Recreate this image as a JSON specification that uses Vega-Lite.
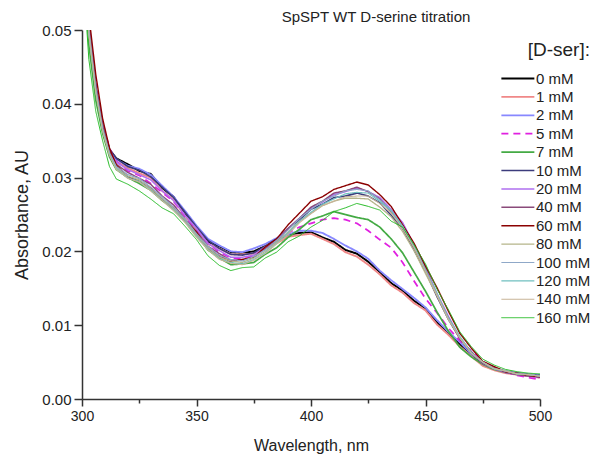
{
  "$schema": "https://vega.github.io/schema/vega-lite/v6.json",
  "width": 458,
  "height": 369,
  "autosize": {"type": "none"},
  "padding": {"left": 82, "top": 30, "right": 54, "bottom": 58},
  "background": "white",
  "title": {"text": "SpSPT WT D-serine titration", "fontSize": 15, "fontWeight": "normal", "font": "Liberation Sans", "color": "#222", "anchor": "middle", "dx": 65, "offset": -2},
  "config": {
    "font": "Liberation Sans",
    "view": {"stroke": null},
    "axis": {"grid": false, "domainColor": "#333", "domainWidth": 1.5, "tickColor": "#333", "tickWidth": 1.5, "labelFontSize": 14, "labelColor": "#222", "titleFontSize": 16, "titleFontWeight": "normal", "titleColor": "#222"}
  },
  "data": {"values": [
{"w":300,"c":"0 mM","a":0.064},{"w":303,"c":"0 mM","a":0.05},{"w":306,"c":"0 mM","a":0.042},{"w":309,"c":"0 mM","a":0.037},{"w":312,"c":"0 mM","a":0.0338},{"w":315,"c":"0 mM","a":0.0326},{"w":320,"c":"0 mM","a":0.0318},{"w":325,"c":"0 mM","a":0.0309},{"w":330,"c":"0 mM","a":0.0305},{"w":335,"c":"0 mM","a":0.0286},{"w":340,"c":"0 mM","a":0.0274},{"w":345,"c":"0 mM","a":0.025},{"w":350,"c":"0 mM","a":0.0233},{"w":355,"c":"0 mM","a":0.0213},{"w":360,"c":"0 mM","a":0.0207},{"w":365,"c":"0 mM","a":0.0199},{"w":370,"c":"0 mM","a":0.0198},{"w":375,"c":"0 mM","a":0.02},{"w":380,"c":"0 mM","a":0.0207},{"w":385,"c":"0 mM","a":0.0214},{"w":390,"c":"0 mM","a":0.0223},{"w":395,"c":"0 mM","a":0.0225},{"w":400,"c":"0 mM","a":0.0226},{"w":405,"c":"0 mM","a":0.0219},{"w":410,"c":"0 mM","a":0.0213},{"w":415,"c":"0 mM","a":0.0202},{"w":420,"c":"0 mM","a":0.0197},{"w":425,"c":"0 mM","a":0.0186},{"w":430,"c":"0 mM","a":0.0172},{"w":435,"c":"0 mM","a":0.0157},{"w":440,"c":"0 mM","a":0.0147},{"w":445,"c":"0 mM","a":0.0133},{"w":450,"c":"0 mM","a":0.0123},{"w":455,"c":"0 mM","a":0.0104},{"w":460,"c":"0 mM","a":0.009},{"w":465,"c":"0 mM","a":0.0074},{"w":470,"c":"0 mM","a":0.0061},{"w":475,"c":"0 mM","a":0.0047},{"w":480,"c":"0 mM","a":0.0041},{"w":485,"c":"0 mM","a":0.0037},{"w":490,"c":"0 mM","a":0.0035},{"w":495,"c":"0 mM","a":0.0033},{"w":500,"c":"0 mM","a":0.0032},
{"w":300,"c":"1 mM","a":0.063},{"w":303,"c":"1 mM","a":0.0495},{"w":306,"c":"1 mM","a":0.0415},{"w":309,"c":"1 mM","a":0.0366},{"w":312,"c":"1 mM","a":0.0335},{"w":315,"c":"1 mM","a":0.0322},{"w":320,"c":"1 mM","a":0.0313},{"w":325,"c":"1 mM","a":0.0306},{"w":330,"c":"1 mM","a":0.03},{"w":335,"c":"1 mM","a":0.0282},{"w":340,"c":"1 mM","a":0.027},{"w":345,"c":"1 mM","a":0.0248},{"w":350,"c":"1 mM","a":0.023},{"w":355,"c":"1 mM","a":0.021},{"w":360,"c":"1 mM","a":0.0204},{"w":365,"c":"1 mM","a":0.0196},{"w":370,"c":"1 mM","a":0.0196},{"w":375,"c":"1 mM","a":0.0197},{"w":380,"c":"1 mM","a":0.0205},{"w":385,"c":"1 mM","a":0.0211},{"w":390,"c":"1 mM","a":0.022},{"w":395,"c":"1 mM","a":0.0222},{"w":400,"c":"1 mM","a":0.0224},{"w":405,"c":"1 mM","a":0.0217},{"w":410,"c":"1 mM","a":0.021},{"w":415,"c":"1 mM","a":0.0199},{"w":420,"c":"1 mM","a":0.0193},{"w":425,"c":"1 mM","a":0.0182},{"w":430,"c":"1 mM","a":0.0169},{"w":435,"c":"1 mM","a":0.0154},{"w":440,"c":"1 mM","a":0.0144},{"w":445,"c":"1 mM","a":0.013},{"w":450,"c":"1 mM","a":0.012},{"w":455,"c":"1 mM","a":0.0101},{"w":460,"c":"1 mM","a":0.0087},{"w":465,"c":"1 mM","a":0.0071},{"w":470,"c":"1 mM","a":0.0058},{"w":475,"c":"1 mM","a":0.0045},{"w":480,"c":"1 mM","a":0.0039},{"w":485,"c":"1 mM","a":0.0035},{"w":490,"c":"1 mM","a":0.0033},{"w":495,"c":"1 mM","a":0.0031},{"w":500,"c":"1 mM","a":0.0029},
{"w":300,"c":"2 mM","a":0.0635},{"w":303,"c":"2 mM","a":0.0498},{"w":306,"c":"2 mM","a":0.0418},{"w":309,"c":"2 mM","a":0.0368},{"w":312,"c":"2 mM","a":0.0337},{"w":315,"c":"2 mM","a":0.0325},{"w":320,"c":"2 mM","a":0.0316},{"w":325,"c":"2 mM","a":0.0312},{"w":330,"c":"2 mM","a":0.0304},{"w":335,"c":"2 mM","a":0.0289},{"w":340,"c":"2 mM","a":0.0274},{"w":345,"c":"2 mM","a":0.0255},{"w":350,"c":"2 mM","a":0.0235},{"w":355,"c":"2 mM","a":0.0217},{"w":360,"c":"2 mM","a":0.0208},{"w":365,"c":"2 mM","a":0.02},{"w":370,"c":"2 mM","a":0.0199},{"w":375,"c":"2 mM","a":0.0204},{"w":380,"c":"2 mM","a":0.021},{"w":385,"c":"2 mM","a":0.0218},{"w":390,"c":"2 mM","a":0.0223},{"w":395,"c":"2 mM","a":0.0228},{"w":400,"c":"2 mM","a":0.0228},{"w":405,"c":"2 mM","a":0.0225},{"w":410,"c":"2 mM","a":0.0217},{"w":415,"c":"2 mM","a":0.0208},{"w":420,"c":"2 mM","a":0.02},{"w":425,"c":"2 mM","a":0.019},{"w":430,"c":"2 mM","a":0.0174},{"w":435,"c":"2 mM","a":0.0161},{"w":440,"c":"2 mM","a":0.0149},{"w":445,"c":"2 mM","a":0.0137},{"w":450,"c":"2 mM","a":0.0124},{"w":455,"c":"2 mM","a":0.0107},{"w":460,"c":"2 mM","a":0.0091},{"w":465,"c":"2 mM","a":0.0077},{"w":470,"c":"2 mM","a":0.0061},{"w":475,"c":"2 mM","a":0.005},{"w":480,"c":"2 mM","a":0.0042},{"w":485,"c":"2 mM","a":0.0038},{"w":490,"c":"2 mM","a":0.0035},{"w":495,"c":"2 mM","a":0.0033},{"w":500,"c":"2 mM","a":0.0032},
{"w":300,"c":"5 mM","a":0.066},{"w":303,"c":"5 mM","a":0.0505},{"w":306,"c":"5 mM","a":0.0425},{"w":309,"c":"5 mM","a":0.0372},{"w":312,"c":"5 mM","a":0.034},{"w":315,"c":"5 mM","a":0.0322},{"w":320,"c":"5 mM","a":0.0309},{"w":325,"c":"5 mM","a":0.0303},{"w":330,"c":"5 mM","a":0.0292},{"w":335,"c":"5 mM","a":0.028},{"w":340,"c":"5 mM","a":0.0268},{"w":345,"c":"5 mM","a":0.0247},{"w":350,"c":"5 mM","a":0.0229},{"w":355,"c":"5 mM","a":0.0211},{"w":360,"c":"5 mM","a":0.0199},{"w":365,"c":"5 mM","a":0.0191},{"w":370,"c":"5 mM","a":0.019},{"w":375,"c":"5 mM","a":0.0194},{"w":380,"c":"5 mM","a":0.0203},{"w":385,"c":"5 mM","a":0.0213},{"w":390,"c":"5 mM","a":0.0225},{"w":395,"c":"5 mM","a":0.0233},{"w":400,"c":"5 mM","a":0.0238},{"w":405,"c":"5 mM","a":0.0243},{"w":410,"c":"5 mM","a":0.0245},{"w":415,"c":"5 mM","a":0.0243},{"w":420,"c":"5 mM","a":0.0238},{"w":425,"c":"5 mM","a":0.0228},{"w":430,"c":"5 mM","a":0.0216},{"w":435,"c":"5 mM","a":0.0205},{"w":440,"c":"5 mM","a":0.0185},{"w":445,"c":"5 mM","a":0.016},{"w":450,"c":"5 mM","a":0.0136},{"w":455,"c":"5 mM","a":0.0117},{"w":460,"c":"5 mM","a":0.0096},{"w":465,"c":"5 mM","a":0.0079},{"w":470,"c":"5 mM","a":0.0065},{"w":475,"c":"5 mM","a":0.0051},{"w":480,"c":"5 mM","a":0.0042},{"w":485,"c":"5 mM","a":0.0037},{"w":490,"c":"5 mM","a":0.0032},{"w":495,"c":"5 mM","a":0.0029},{"w":500,"c":"5 mM","a":0.0026},
{"w":300,"c":"7 mM","a":0.062},{"w":303,"c":"7 mM","a":0.048},{"w":306,"c":"7 mM","a":0.0405},{"w":309,"c":"7 mM","a":0.036},{"w":312,"c":"7 mM","a":0.0328},{"w":315,"c":"7 mM","a":0.0311},{"w":320,"c":"7 mM","a":0.03},{"w":325,"c":"7 mM","a":0.0292},{"w":330,"c":"7 mM","a":0.0283},{"w":335,"c":"7 mM","a":0.0269},{"w":340,"c":"7 mM","a":0.0258},{"w":345,"c":"7 mM","a":0.0241},{"w":350,"c":"7 mM","a":0.0223},{"w":355,"c":"7 mM","a":0.0202},{"w":360,"c":"7 mM","a":0.0191},{"w":365,"c":"7 mM","a":0.0182},{"w":370,"c":"7 mM","a":0.0183},{"w":375,"c":"7 mM","a":0.0185},{"w":380,"c":"7 mM","a":0.0196},{"w":385,"c":"7 mM","a":0.0205},{"w":390,"c":"7 mM","a":0.0219},{"w":395,"c":"7 mM","a":0.023},{"w":400,"c":"7 mM","a":0.0243},{"w":405,"c":"7 mM","a":0.0248},{"w":410,"c":"7 mM","a":0.0254},{"w":415,"c":"7 mM","a":0.025},{"w":420,"c":"7 mM","a":0.0246},{"w":425,"c":"7 mM","a":0.0243},{"w":430,"c":"7 mM","a":0.0233},{"w":435,"c":"7 mM","a":0.0217},{"w":440,"c":"7 mM","a":0.0198},{"w":445,"c":"7 mM","a":0.0172},{"w":450,"c":"7 mM","a":0.0146},{"w":455,"c":"7 mM","a":0.0118},{"w":460,"c":"7 mM","a":0.0092},{"w":465,"c":"7 mM","a":0.007},{"w":470,"c":"7 mM","a":0.0057},{"w":475,"c":"7 mM","a":0.0047},{"w":480,"c":"7 mM","a":0.004},{"w":485,"c":"7 mM","a":0.0036},{"w":490,"c":"7 mM","a":0.0034},{"w":495,"c":"7 mM","a":0.0032},{"w":500,"c":"7 mM","a":0.0031},
{"w":300,"c":"10 mM","a":0.065},{"w":303,"c":"10 mM","a":0.0505},{"w":306,"c":"10 mM","a":0.0425},{"w":309,"c":"10 mM","a":0.0372},{"w":312,"c":"10 mM","a":0.0338},{"w":315,"c":"10 mM","a":0.0326},{"w":320,"c":"10 mM","a":0.0315},{"w":325,"c":"10 mM","a":0.031},{"w":330,"c":"10 mM","a":0.0301},{"w":335,"c":"10 mM","a":0.0287},{"w":340,"c":"10 mM","a":0.0273},{"w":345,"c":"10 mM","a":0.0253},{"w":350,"c":"10 mM","a":0.0233},{"w":355,"c":"10 mM","a":0.0215},{"w":360,"c":"10 mM","a":0.0204},{"w":365,"c":"10 mM","a":0.0196},{"w":370,"c":"10 mM","a":0.0195},{"w":375,"c":"10 mM","a":0.0198},{"w":380,"c":"10 mM","a":0.0207},{"w":385,"c":"10 mM","a":0.0217},{"w":390,"c":"10 mM","a":0.0231},{"w":395,"c":"10 mM","a":0.0243},{"w":400,"c":"10 mM","a":0.0257},{"w":405,"c":"10 mM","a":0.0264},{"w":410,"c":"10 mM","a":0.0273},{"w":415,"c":"10 mM","a":0.0275},{"w":420,"c":"10 mM","a":0.0279},{"w":425,"c":"10 mM","a":0.0275},{"w":430,"c":"10 mM","a":0.0266},{"w":435,"c":"10 mM","a":0.0249},{"w":440,"c":"10 mM","a":0.0231},{"w":445,"c":"10 mM","a":0.0202},{"w":450,"c":"10 mM","a":0.0173},{"w":455,"c":"10 mM","a":0.0139},{"w":460,"c":"10 mM","a":0.0108},{"w":465,"c":"10 mM","a":0.0082},{"w":470,"c":"10 mM","a":0.0062},{"w":475,"c":"10 mM","a":0.0049},{"w":480,"c":"10 mM","a":0.0041},{"w":485,"c":"10 mM","a":0.0037},{"w":490,"c":"10 mM","a":0.0034},{"w":495,"c":"10 mM","a":0.0032},{"w":500,"c":"10 mM","a":0.0031},
{"w":300,"c":"20 mM","a":0.065},{"w":303,"c":"20 mM","a":0.0503},{"w":306,"c":"20 mM","a":0.0423},{"w":309,"c":"20 mM","a":0.037},{"w":312,"c":"20 mM","a":0.0337},{"w":315,"c":"20 mM","a":0.0321},{"w":320,"c":"20 mM","a":0.0311},{"w":325,"c":"20 mM","a":0.0304},{"w":330,"c":"20 mM","a":0.0297},{"w":335,"c":"20 mM","a":0.0282},{"w":340,"c":"20 mM","a":0.0269},{"w":345,"c":"20 mM","a":0.0249},{"w":350,"c":"20 mM","a":0.0231},{"w":355,"c":"20 mM","a":0.0211},{"w":360,"c":"20 mM","a":0.0201},{"w":365,"c":"20 mM","a":0.0192},{"w":370,"c":"20 mM","a":0.0192},{"w":375,"c":"20 mM","a":0.0195},{"w":380,"c":"20 mM","a":0.0206},{"w":385,"c":"20 mM","a":0.0215},{"w":390,"c":"20 mM","a":0.0231},{"w":395,"c":"20 mM","a":0.0245},{"w":400,"c":"20 mM","a":0.0259},{"w":405,"c":"20 mM","a":0.0267},{"w":410,"c":"20 mM","a":0.0277},{"w":415,"c":"20 mM","a":0.0281},{"w":420,"c":"20 mM","a":0.0286},{"w":425,"c":"20 mM","a":0.0281},{"w":430,"c":"20 mM","a":0.0273},{"w":435,"c":"20 mM","a":0.0257},{"w":440,"c":"20 mM","a":0.0239},{"w":445,"c":"20 mM","a":0.0209},{"w":450,"c":"20 mM","a":0.0179},{"w":455,"c":"20 mM","a":0.0143},{"w":460,"c":"20 mM","a":0.0112},{"w":465,"c":"20 mM","a":0.0083},{"w":470,"c":"20 mM","a":0.0064},{"w":475,"c":"20 mM","a":0.0048},{"w":480,"c":"20 mM","a":0.0041},{"w":485,"c":"20 mM","a":0.0036},{"w":490,"c":"20 mM","a":0.0033},{"w":495,"c":"20 mM","a":0.0031},{"w":500,"c":"20 mM","a":0.0029},
{"w":300,"c":"40 mM","a":0.0655},{"w":303,"c":"40 mM","a":0.0505},{"w":306,"c":"40 mM","a":0.0424},{"w":309,"c":"40 mM","a":0.037},{"w":312,"c":"40 mM","a":0.0336},{"w":315,"c":"40 mM","a":0.0318},{"w":320,"c":"40 mM","a":0.0307},{"w":325,"c":"40 mM","a":0.0299},{"w":330,"c":"40 mM","a":0.0291},{"w":335,"c":"40 mM","a":0.0275},{"w":340,"c":"40 mM","a":0.0263},{"w":345,"c":"40 mM","a":0.0244},{"w":350,"c":"40 mM","a":0.0227},{"w":355,"c":"40 mM","a":0.0207},{"w":360,"c":"40 mM","a":0.0197},{"w":365,"c":"40 mM","a":0.0188},{"w":370,"c":"40 mM","a":0.0189},{"w":375,"c":"40 mM","a":0.0192},{"w":380,"c":"40 mM","a":0.0204},{"w":385,"c":"40 mM","a":0.0214},{"w":390,"c":"40 mM","a":0.0231},{"w":395,"c":"40 mM","a":0.0245},{"w":400,"c":"40 mM","a":0.026},{"w":405,"c":"40 mM","a":0.0268},{"w":410,"c":"40 mM","a":0.0279},{"w":415,"c":"40 mM","a":0.0282},{"w":420,"c":"40 mM","a":0.0287},{"w":425,"c":"40 mM","a":0.0281},{"w":430,"c":"40 mM","a":0.0271},{"w":435,"c":"40 mM","a":0.0254},{"w":440,"c":"40 mM","a":0.0235},{"w":445,"c":"40 mM","a":0.0205},{"w":450,"c":"40 mM","a":0.0175},{"w":455,"c":"40 mM","a":0.014},{"w":460,"c":"40 mM","a":0.011},{"w":465,"c":"40 mM","a":0.0082},{"w":470,"c":"40 mM","a":0.0064},{"w":475,"c":"40 mM","a":0.0048},{"w":480,"c":"40 mM","a":0.0042},{"w":485,"c":"40 mM","a":0.0036},{"w":490,"c":"40 mM","a":0.0033},{"w":495,"c":"40 mM","a":0.0031},{"w":500,"c":"40 mM","a":0.003},
{"w":300,"c":"60 mM","a":0.068},{"w":303,"c":"60 mM","a":0.052},{"w":306,"c":"60 mM","a":0.044},{"w":309,"c":"60 mM","a":0.038},{"w":312,"c":"60 mM","a":0.034},{"w":315,"c":"60 mM","a":0.0317},{"w":320,"c":"60 mM","a":0.0301},{"w":325,"c":"60 mM","a":0.0295},{"w":330,"c":"60 mM","a":0.0286},{"w":335,"c":"60 mM","a":0.027},{"w":340,"c":"60 mM","a":0.0259},{"w":345,"c":"60 mM","a":0.0242},{"w":350,"c":"60 mM","a":0.0226},{"w":355,"c":"60 mM","a":0.0204},{"w":360,"c":"60 mM","a":0.0194},{"w":365,"c":"60 mM","a":0.0186},{"w":370,"c":"60 mM","a":0.0189},{"w":375,"c":"60 mM","a":0.0192},{"w":380,"c":"60 mM","a":0.0206},{"w":385,"c":"60 mM","a":0.0217},{"w":390,"c":"60 mM","a":0.0236},{"w":395,"c":"60 mM","a":0.0252},{"w":400,"c":"60 mM","a":0.0268},{"w":405,"c":"60 mM","a":0.0274},{"w":410,"c":"60 mM","a":0.0284},{"w":415,"c":"60 mM","a":0.0289},{"w":420,"c":"60 mM","a":0.0294},{"w":425,"c":"60 mM","a":0.029},{"w":430,"c":"60 mM","a":0.0277},{"w":435,"c":"60 mM","a":0.0261},{"w":440,"c":"60 mM","a":0.0236},{"w":445,"c":"60 mM","a":0.0211},{"w":450,"c":"60 mM","a":0.018},{"w":455,"c":"60 mM","a":0.0151},{"w":460,"c":"60 mM","a":0.0119},{"w":465,"c":"60 mM","a":0.0089},{"w":470,"c":"60 mM","a":0.0069},{"w":475,"c":"60 mM","a":0.0051},{"w":480,"c":"60 mM","a":0.0044},{"w":485,"c":"60 mM","a":0.0037},{"w":490,"c":"60 mM","a":0.0035},{"w":495,"c":"60 mM","a":0.0032},{"w":500,"c":"60 mM","a":0.003},
{"w":300,"c":"80 mM","a":0.064},{"w":303,"c":"80 mM","a":0.0495},{"w":306,"c":"80 mM","a":0.0418},{"w":309,"c":"80 mM","a":0.0365},{"w":312,"c":"80 mM","a":0.0332},{"w":315,"c":"80 mM","a":0.0313},{"w":320,"c":"80 mM","a":0.0302},{"w":325,"c":"80 mM","a":0.0297},{"w":330,"c":"80 mM","a":0.0285},{"w":335,"c":"80 mM","a":0.0272},{"w":340,"c":"80 mM","a":0.0258},{"w":345,"c":"80 mM","a":0.0242},{"w":350,"c":"80 mM","a":0.0222},{"w":355,"c":"80 mM","a":0.0205},{"w":360,"c":"80 mM","a":0.0192},{"w":365,"c":"80 mM","a":0.0187},{"w":370,"c":"80 mM","a":0.0185},{"w":375,"c":"80 mM","a":0.0191},{"w":380,"c":"80 mM","a":0.02},{"w":385,"c":"80 mM","a":0.0213},{"w":390,"c":"80 mM","a":0.0226},{"w":395,"c":"80 mM","a":0.0241},{"w":400,"c":"80 mM","a":0.0252},{"w":405,"c":"80 mM","a":0.0262},{"w":410,"c":"80 mM","a":0.0268},{"w":415,"c":"80 mM","a":0.0272},{"w":420,"c":"80 mM","a":0.0272},{"w":425,"c":"80 mM","a":0.0271},{"w":430,"c":"80 mM","a":0.026},{"w":435,"c":"80 mM","a":0.0247},{"w":440,"c":"80 mM","a":0.0227},{"w":445,"c":"80 mM","a":0.0201},{"w":450,"c":"80 mM","a":0.017},{"w":455,"c":"80 mM","a":0.014},{"w":460,"c":"80 mM","a":0.0108},{"w":465,"c":"80 mM","a":0.0083},{"w":470,"c":"80 mM","a":0.0062},{"w":475,"c":"80 mM","a":0.005},{"w":480,"c":"80 mM","a":0.0041},{"w":485,"c":"80 mM","a":0.0038},{"w":490,"c":"80 mM","a":0.0034},{"w":495,"c":"80 mM","a":0.0033},{"w":500,"c":"80 mM","a":0.0031},
{"w":300,"c":"100 mM","a":0.0645},{"w":303,"c":"100 mM","a":0.05},{"w":306,"c":"100 mM","a":0.042},{"w":309,"c":"100 mM","a":0.0366},{"w":312,"c":"100 mM","a":0.0333},{"w":315,"c":"100 mM","a":0.0315},{"w":320,"c":"100 mM","a":0.0304},{"w":325,"c":"100 mM","a":0.0299},{"w":330,"c":"100 mM","a":0.0287},{"w":335,"c":"100 mM","a":0.0274},{"w":340,"c":"100 mM","a":0.026},{"w":345,"c":"100 mM","a":0.0244},{"w":350,"c":"100 mM","a":0.0224},{"w":355,"c":"100 mM","a":0.0207},{"w":360,"c":"100 mM","a":0.0194},{"w":365,"c":"100 mM","a":0.0189},{"w":370,"c":"100 mM","a":0.0187},{"w":375,"c":"100 mM","a":0.0193},{"w":380,"c":"100 mM","a":0.0202},{"w":385,"c":"100 mM","a":0.0215},{"w":390,"c":"100 mM","a":0.0229},{"w":395,"c":"100 mM","a":0.0245},{"w":400,"c":"100 mM","a":0.0257},{"w":405,"c":"100 mM","a":0.0268},{"w":410,"c":"100 mM","a":0.0275},{"w":415,"c":"100 mM","a":0.0282},{"w":420,"c":"100 mM","a":0.0284},{"w":425,"c":"100 mM","a":0.0282},{"w":430,"c":"100 mM","a":0.027},{"w":435,"c":"100 mM","a":0.0256},{"w":440,"c":"100 mM","a":0.0234},{"w":445,"c":"100 mM","a":0.0207},{"w":450,"c":"100 mM","a":0.0174},{"w":455,"c":"100 mM","a":0.0142},{"w":460,"c":"100 mM","a":0.0109},{"w":465,"c":"100 mM","a":0.0084},{"w":470,"c":"100 mM","a":0.0062},{"w":475,"c":"100 mM","a":0.005},{"w":480,"c":"100 mM","a":0.0041},{"w":485,"c":"100 mM","a":0.0038},{"w":490,"c":"100 mM","a":0.0034},{"w":495,"c":"100 mM","a":0.0033},{"w":500,"c":"100 mM","a":0.0031},
{"w":300,"c":"120 mM","a":0.064},{"w":303,"c":"120 mM","a":0.0495},{"w":306,"c":"120 mM","a":0.0417},{"w":309,"c":"120 mM","a":0.0364},{"w":312,"c":"120 mM","a":0.0331},{"w":315,"c":"120 mM","a":0.0312},{"w":320,"c":"120 mM","a":0.03},{"w":325,"c":"120 mM","a":0.0295},{"w":330,"c":"120 mM","a":0.0283},{"w":335,"c":"120 mM","a":0.027},{"w":340,"c":"120 mM","a":0.0256},{"w":345,"c":"120 mM","a":0.024},{"w":350,"c":"120 mM","a":0.022},{"w":355,"c":"120 mM","a":0.0203},{"w":360,"c":"120 mM","a":0.019},{"w":365,"c":"120 mM","a":0.0185},{"w":370,"c":"120 mM","a":0.0183},{"w":375,"c":"120 mM","a":0.0189},{"w":380,"c":"120 mM","a":0.0198},{"w":385,"c":"120 mM","a":0.0211},{"w":390,"c":"120 mM","a":0.0225},{"w":395,"c":"120 mM","a":0.0241},{"w":400,"c":"120 mM","a":0.0253},{"w":405,"c":"120 mM","a":0.0264},{"w":410,"c":"120 mM","a":0.0271},{"w":415,"c":"120 mM","a":0.0278},{"w":420,"c":"120 mM","a":0.028},{"w":425,"c":"120 mM","a":0.0279},{"w":430,"c":"120 mM","a":0.0268},{"w":435,"c":"120 mM","a":0.0255},{"w":440,"c":"120 mM","a":0.0234},{"w":445,"c":"120 mM","a":0.0207},{"w":450,"c":"120 mM","a":0.0175},{"w":455,"c":"120 mM","a":0.0143},{"w":460,"c":"120 mM","a":0.011},{"w":465,"c":"120 mM","a":0.0085},{"w":470,"c":"120 mM","a":0.0063},{"w":475,"c":"120 mM","a":0.005},{"w":480,"c":"120 mM","a":0.0041},{"w":485,"c":"120 mM","a":0.0038},{"w":490,"c":"120 mM","a":0.0034},{"w":495,"c":"120 mM","a":0.0033},{"w":500,"c":"120 mM","a":0.0031},
{"w":300,"c":"140 mM","a":0.064},{"w":303,"c":"140 mM","a":0.0495},{"w":306,"c":"140 mM","a":0.0416},{"w":309,"c":"140 mM","a":0.0363},{"w":312,"c":"140 mM","a":0.033},{"w":315,"c":"140 mM","a":0.0311},{"w":320,"c":"140 mM","a":0.0299},{"w":325,"c":"140 mM","a":0.0294},{"w":330,"c":"140 mM","a":0.0282},{"w":335,"c":"140 mM","a":0.0269},{"w":340,"c":"140 mM","a":0.0255},{"w":345,"c":"140 mM","a":0.0239},{"w":350,"c":"140 mM","a":0.0219},{"w":355,"c":"140 mM","a":0.0202},{"w":360,"c":"140 mM","a":0.0189},{"w":365,"c":"140 mM","a":0.0184},{"w":370,"c":"140 mM","a":0.0182},{"w":375,"c":"140 mM","a":0.0188},{"w":380,"c":"140 mM","a":0.0197},{"w":385,"c":"140 mM","a":0.021},{"w":390,"c":"140 mM","a":0.0223},{"w":395,"c":"140 mM","a":0.0239},{"w":400,"c":"140 mM","a":0.0251},{"w":405,"c":"140 mM","a":0.0262},{"w":410,"c":"140 mM","a":0.0268},{"w":415,"c":"140 mM","a":0.0274},{"w":420,"c":"140 mM","a":0.0275},{"w":425,"c":"140 mM","a":0.0275},{"w":430,"c":"140 mM","a":0.0265},{"w":435,"c":"140 mM","a":0.0252},{"w":440,"c":"140 mM","a":0.0231},{"w":445,"c":"140 mM","a":0.0205},{"w":450,"c":"140 mM","a":0.0173},{"w":455,"c":"140 mM","a":0.0141},{"w":460,"c":"140 mM","a":0.0108},{"w":465,"c":"140 mM","a":0.0083},{"w":470,"c":"140 mM","a":0.0062},{"w":475,"c":"140 mM","a":0.005},{"w":480,"c":"140 mM","a":0.0041},{"w":485,"c":"140 mM","a":0.0038},{"w":490,"c":"140 mM","a":0.0034},{"w":495,"c":"140 mM","a":0.0033},{"w":500,"c":"140 mM","a":0.0031},
{"w":300,"c":"160 mM","a":0.06},{"w":303,"c":"160 mM","a":0.046},{"w":306,"c":"160 mM","a":0.039},{"w":309,"c":"160 mM","a":0.035},{"w":312,"c":"160 mM","a":0.0315},{"w":315,"c":"160 mM","a":0.0298},{"w":320,"c":"160 mM","a":0.0291},{"w":325,"c":"160 mM","a":0.0282},{"w":330,"c":"160 mM","a":0.0271},{"w":335,"c":"160 mM","a":0.0259},{"w":340,"c":"160 mM","a":0.0251},{"w":345,"c":"160 mM","a":0.0234},{"w":350,"c":"160 mM","a":0.0216},{"w":355,"c":"160 mM","a":0.0194},{"w":360,"c":"160 mM","a":0.0181},{"w":365,"c":"160 mM","a":0.0174},{"w":370,"c":"160 mM","a":0.0178},{"w":375,"c":"160 mM","a":0.0179},{"w":380,"c":"160 mM","a":0.0191},{"w":385,"c":"160 mM","a":0.0199},{"w":390,"c":"160 mM","a":0.0213},{"w":395,"c":"160 mM","a":0.0221},{"w":400,"c":"160 mM","a":0.0233},{"w":405,"c":"160 mM","a":0.0242},{"w":410,"c":"160 mM","a":0.0254},{"w":415,"c":"160 mM","a":0.0259},{"w":420,"c":"160 mM","a":0.0265},{"w":425,"c":"160 mM","a":0.0261},{"w":430,"c":"160 mM","a":0.0256},{"w":435,"c":"160 mM","a":0.0241},{"w":440,"c":"160 mM","a":0.0233},{"w":445,"c":"160 mM","a":0.0209},{"w":450,"c":"160 mM","a":0.0183},{"w":455,"c":"160 mM","a":0.0149},{"w":460,"c":"160 mM","a":0.0121},{"w":465,"c":"160 mM","a":0.0091},{"w":470,"c":"160 mM","a":0.0071},{"w":475,"c":"160 mM","a":0.0054},{"w":480,"c":"160 mM","a":0.0046},{"w":485,"c":"160 mM","a":0.004},{"w":490,"c":"160 mM","a":0.0037},{"w":495,"c":"160 mM","a":0.0035},{"w":500,"c":"160 mM","a":0.0034}
  ]},
  "mark": {"type": "line", "clip": true, "strokeJoin": "round"},
  "encoding": {
    "x": {"field": "w", "type": "quantitative", "title": "Wavelength, nm",
      "scale": {"domain": [300, 500], "nice": false},
      "axis": {"values": [300, 325, 350, 375, 400, 425, 450, 475, 500], "labelExpr": "datum.value % 50 === 0 ? datum.label : ''",
        "tickSize": {"condition": {"test": "datum.value % 50 === 0", "value": 7}, "value": 4},
        "labelPadding": 3, "titlePadding": 14, "labelFlush": false}},
    "y": {"field": "a", "type": "quantitative", "title": "Absorbance, AU",
      "scale": {"domain": [0, 0.05], "nice": false},
      "axis": {"values": [0, 0.01, 0.02, 0.03, 0.04, 0.05], "format": ".2f", "tickSize": 8, "labelPadding": 3, "labelFontSize": 15, "titleFontSize": 18, "titlePadding": 10, "labelFlush": false}},
    "color": {"field": "c", "type": "nominal", "title": "[D-ser]:",
      "scale": {"domain": ["0 mM","1 mM","2 mM","5 mM","7 mM","10 mM","20 mM","40 mM","60 mM","80 mM","100 mM","120 mM","140 mM","160 mM"],
        "range": ["#000000","#f08888","#8888ff","#e020e0","#44aa44","#3c3c7c","#b070f0","#8a4a7a","#8b0000","#b5b58a","#8fa8c8","#70c0c0","#c8b496","#22bb22"]},
      "legend": {"orient": "none", "legendX": 416, "legendY": 11, "symbolType": "M-1,0H7", "symbolSize": 68, "titleFontSize": 19, "titleFontWeight": "normal", "titleColor": "#222", "titleAnchor": "end", "labelFontSize": 15, "labelColor": "#222", "rowPadding": 2.4, "titlePadding": 11, "labelOffset": 23}},
    "strokeDash": {"field": "c", "type": "nominal", "title": "[D-ser]:",
      "scale": {"domain": ["0 mM","1 mM","2 mM","5 mM","7 mM","10 mM","20 mM","40 mM","60 mM","80 mM","100 mM","120 mM","140 mM","160 mM"],
        "range": [[1,0],[1,0],[1,0],[7,5],[1,0],[1,0],[1,0],[1,0],[1,0],[1,0],[1,0],[1,0],[1,0],[1,0]]}},
    "strokeWidth": {"field": "c", "type": "nominal", "title": "[D-ser]:",
      "scale": {"domain": ["0 mM","1 mM","2 mM","5 mM","7 mM","10 mM","20 mM","40 mM","60 mM","80 mM","100 mM","120 mM","140 mM","160 mM"],
        "range": [2, 1, 1.2, 2, 1, 1, 1.2, 1, 2.2, 1, 1, 1, 1, 2.2]}}
  }
}
